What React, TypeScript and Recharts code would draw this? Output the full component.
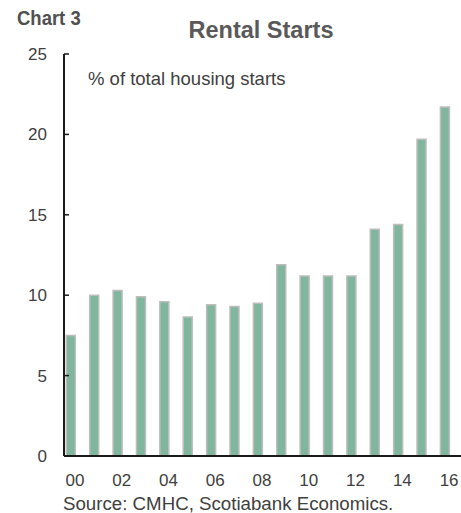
import { Bar, BarChart, XAxis, YAxis } from 'recharts';

const years = [0, 1, 2, 3, 4, 5, 6, 7, 8, 9, 10, 11, 12, 13, 14, 15, 16];
const rentalShare = [7.5, 10.0, 10.3, 9.9, 9.6, 8.65, 9.4, 9.3, 9.5, 11.9, 11.2, 11.2, 11.2, 14.1, 14.4, 19.7, 21.7];
const xTicks = [0, 2, 4, 6, 8, 10, 12, 14, 16];
const yTicks = [0, 5, 10, 15, 20, 25];

const data = years.map((year, i) => ({ year, share: rentalShare[i] }));

const font = 'Arial, "Liberation Sans", sans-serif';

function YTick(props: any) {
  const { x, y, payload } = props;
  return (
    <g>
      <line x1={x + 17} x2={x + 22} y1={y} y2={y} stroke="#1a1a1a" strokeWidth={1.5} />
      <text x={x} y={y} dy={6} textAnchor="end" fill="#404040" fontSize={17} fontFamily={font}>
        {payload.value}
      </text>
    </g>
  );
}

export default function App() {
  return (
    <div style={{ position: 'absolute', left: 0, top: 0, width: 461, height: 513, background: '#fff', fontFamily: font }}>
      <div
        style={{
          position: 'absolute',
          left: 17,
          top: 6,
          fontSize: 21,
          fontWeight: 700,
          color: '#505050',
          transform: 'scaleX(0.88)',
          transformOrigin: 'left top',
        }}
      >
        Chart 3
      </div>
      <div style={{ position: 'absolute', left: 0, width: 522, top: 17, textAlign: 'center', fontSize: 23.5, fontWeight: 700, color: '#595959' }}>
        Rental Starts
      </div>
      <div style={{ position: 'absolute', left: 88, top: 68, fontSize: 18.5, color: '#404040' }}>
        % of total housing starts
      </div>
      <BarChart width={461} height={513} data={data} margin={{ top: 54, right: 0, bottom: 0, left: 0 }}>
        <XAxis
          type="number"
          dataKey="year"
          domain={[-0.3, 16.68]}
          ticks={xTicks}
          allowDataOverflow
          height={57}
          tickLine={false}
          tickMargin={12}
          axisLine={{ stroke: '#1a1a1a', strokeWidth: 2 }}
          tick={{ fill: '#404040', fontSize: 17, dx: 4, fontFamily: font }}
          tickFormatter={(v) => String(v).padStart(2, '0')}
        />
        <YAxis
          domain={[0, 25]}
          ticks={yTicks}
          width={64}
          tickSize={0}
          tickMargin={17}
          tickLine={false}
          axisLine={{ stroke: '#1a1a1a', strokeWidth: 2 }}
          tick={<YTick />}
        />
        <Bar dataKey="share" fill="#80b69d" stroke="#bdbdbd" strokeWidth={1.5} barSize={9} isAnimationActive={false} />
      </BarChart>
      <div style={{ position: 'absolute', left: 63, top: 493, fontSize: 18.7, color: '#404040' }}>
        Source: CMHC, Scotiabank Economics.
      </div>
    </div>
  );
}
